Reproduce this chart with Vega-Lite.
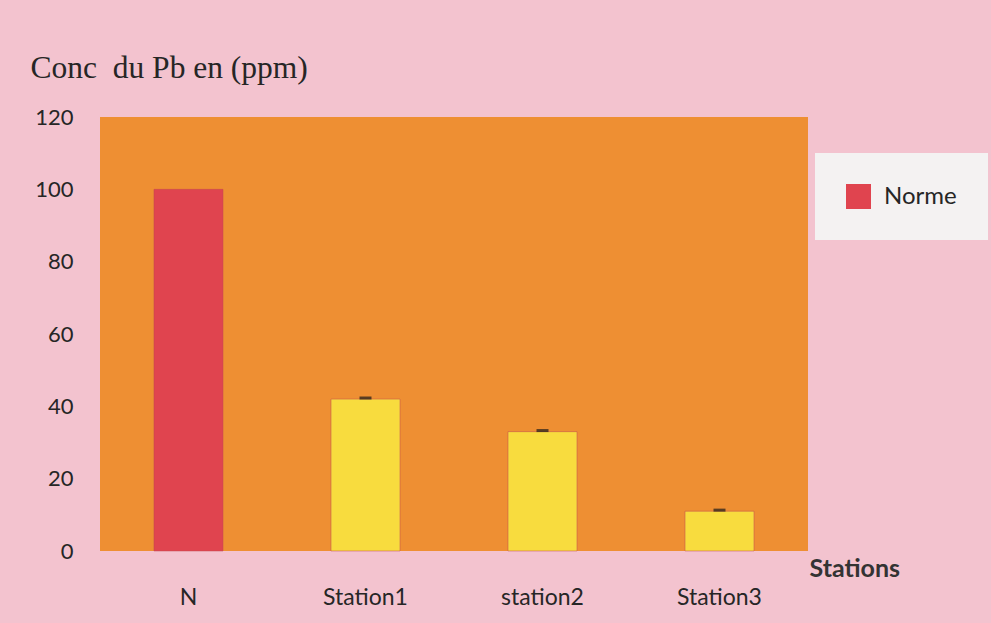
{
  "$schema": "https://vega.github.io/schema/vega-lite/v6.json",
  "autosize": "none",
  "width": 708,
  "height": 434,
  "padding": {"left": 100, "top": 117, "right": 183, "bottom": 72},
  "background": "#f3c3cf",
  "data": {"values": [
    {"station": "N", "conc": 100, "serie": "Norme", "err": null},
    {"station": "Station1", "conc": 42, "serie": "Station", "err": 42.3},
    {"station": "station2", "conc": 33, "serie": "Station", "err": 33.3},
    {"station": "Station3", "conc": 11, "serie": "Station", "err": 11.3}
  ]},
  "config": {
    "view": {"fill": "#ee8f33", "stroke": null},
    "axis": {"labelFont": "Lato", "labelFontSize": 22, "labelColor": "#262626", "domain": false, "ticks": false, "grid": false}
  },
  "layer": [
    {
      "mark": {"type": "bar"},
      "encoding": {
        "x": {"field": "station", "type": "nominal", "sort": null,
          "scale": {"paddingInner": 0.61, "paddingOuter": 0.305},
          "axis": {"labelAngle": 0, "labelPadding": 35, "labelFontSize": 23, "title": "Stations", "titleAngle": 0,
            "titleX": 709, "titleY": 17, "titleAlign": "left", "titleBaseline": "middle",
            "titleFont": "Lato", "titleFontSize": 25, "titleFontWeight": "bold", "titleColor": "#333333"}},
        "y": {"field": "conc", "type": "quantitative",
          "scale": {"domain": [0, 120]},
          "axis": {"values": [0, 20, 40, 60, 80, 100, 120], "labelPadding": 27,
            "title": "Conc\u00a0 du Pb en (ppm)", "titleAngle": 0, "titleX": -70, "titleY": -40,
            "titleAlign": "left", "titleBaseline": "alphabetic", "titleFont": "Liberation Serif",
            "titleFontSize": 31.5, "titleFontWeight": "normal", "titleColor": "#262626"}},
        "color": {"field": "serie", "type": "nominal",
          "scale": {"domain": ["Norme", "Station"], "range": ["#e0444f", "#f8dc3e"]},
          "legend": {"values": ["Norme"], "title": null, "orient": "none", "legendX": 715, "legendY": 36,
            "fillColor": "#f4f2f2", "padding": 31, "symbolType": "square", "symbolSize": 625,
            "symbolStrokeWidth": 0,
            "labelFont": "Lato", "labelFontSize": 24, "labelColor": "#262626", "labelOffset": 13}},
        "stroke": {"value": "#c04850"},
        "strokeWidth": {"value": 0.5}
      }
    },
    {
      "mark": {"type": "tick", "color": "#1a1a1a", "thickness": 3, "size": 12},
      "encoding": {
        "x": {"field": "station", "type": "nominal", "sort": null},
        "y": {"field": "err", "type": "quantitative"}
      }
    }
  ]
}
